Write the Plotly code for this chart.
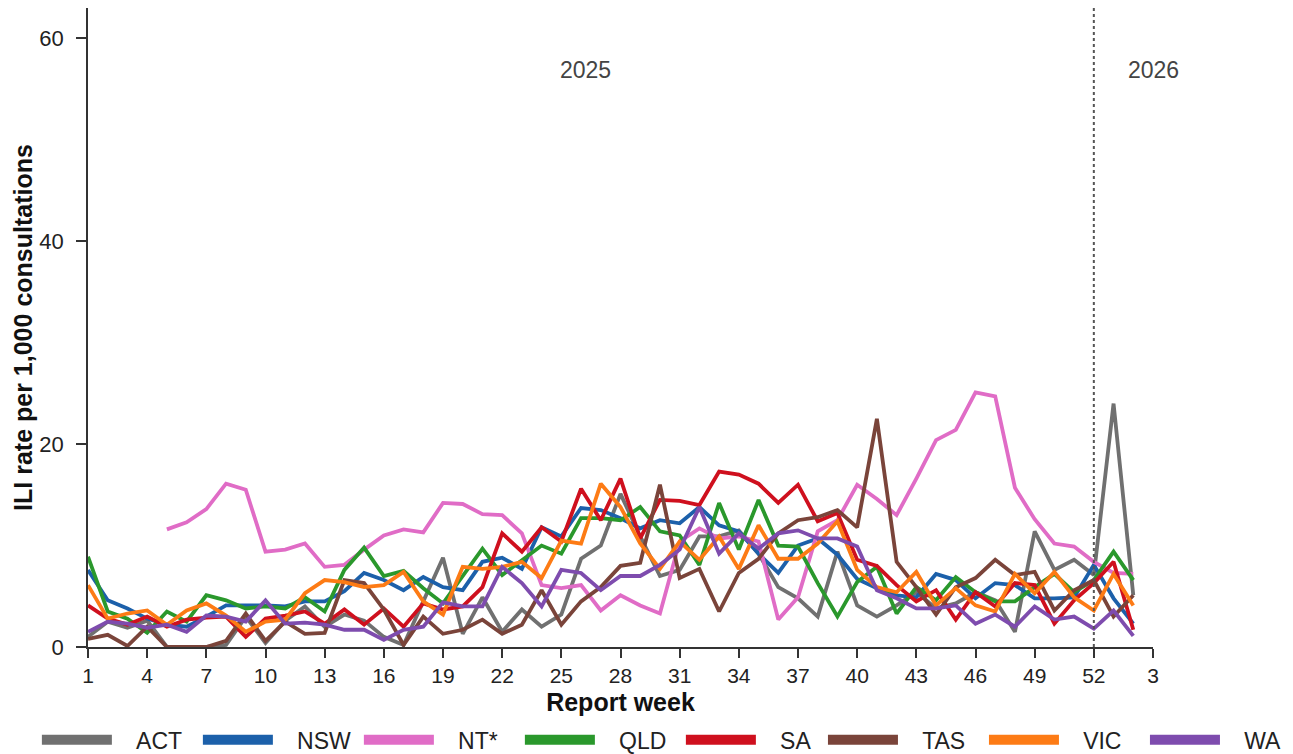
import plotly.graph_objects as go

# Report weeks: 2025 weeks 1-52 followed by 2026 weeks 1-2
report_week = [*range(1, 53), 1, 2]
week_index = list(range(1, len(report_week) + 1))

tick_index = [1, 4, 7, 10, 13, 16, 19, 22, 25, 28, 31, 34, 37, 40, 43, 46, 49, 52, 55]
tick_labels = ["1", "4", "7", "10", "13", "16", "19", "22", "25", "28", "31",
               "34", "37", "40", "43", "46", "49", "52", "3"]

# ILI rate per 1,000 consultations by jurisdiction
act = [1.0, 2.5, 1.9, 2.6, 0.0, 0.0, 0.0, 0.2, 3.0, 0.4, 2.6, 4.0, 2.0, 3.2, 2.6, 1.0, 0.2, 4.5,
       8.8, 1.3, 4.9, 1.5, 3.7, 2.0, 3.2, 8.7, 10.0, 15.1, 10.9, 7.0, 7.6, 10.9, 10.9, 11.5, 9.2,
       5.9, 4.8, 3.0, 9.4, 4.1, 3.0, 4.1, 5.4, 3.8, 4.3, 5.4, 4.6, 1.5, 11.4, 7.6, 8.6, 7.1, 24.0, 5.1]
nsw = [7.6, 4.6, 3.8, 2.8, 2.2, 2.0, 3.0, 4.1, 4.1, 4.1, 4.0, 4.5, 4.5, 5.5, 7.3, 6.6, 5.6, 6.9,
       5.9, 5.6, 8.4, 8.8, 7.7, 11.8, 10.9, 13.7, 13.5, 12.7, 11.7, 12.5, 12.2, 13.8, 12.0, 11.4,
       9.2, 7.3, 10.0, 10.7, 9.1, 6.7, 5.8, 5.1, 4.9, 7.2, 6.6, 4.8, 6.3, 6.1, 4.8, 4.8, 4.9, 8.1,
       4.8, 2.3]
nt = [None, None, None, None, 11.6, 12.3, 13.6, 16.1, 15.5, 9.4, 9.6, 10.2, 7.9, 8.1, 9.6, 11.0,
      11.6, 11.3, 14.2, 14.1, 13.1, 13.0, 11.2, 6.1, 5.8, 6.1, 3.6, 5.1, 4.1, 3.3, 10.4, 11.7,
      10.7, 10.9, 10.4, 2.7, 4.9, 11.4, 12.5, 16.0, 14.6, 13.0, 16.6, 20.4, 21.4, 25.1, 24.7,
      15.7, 12.6, 10.2, 9.9, 8.4, 7.3, 7.2]
qld = [8.9, 3.5, 2.8, 1.4, 3.5, 2.5, 5.1, 4.6, 3.8, 4.0, 3.8, 4.9, 3.5, 7.6, 9.8, 7.0, 7.5, 5.8,
       4.3, 7.0, 9.7, 7.1, 8.6, 10.0, 9.2, 12.7, 12.7, 12.5, 13.8, 11.4, 11.0, 8.1, 14.2, 9.6,
       14.5, 10.0, 9.9, 6.3, 3.0, 6.4, 7.9, 3.3, 5.9, 4.6, 6.9, 5.4, 4.5, 4.5, 5.9, 7.2, 5.4, 6.6,
       9.4, 6.6]
sa = [4.1, 2.8, 2.2, 3.0, 2.0, 2.7, 2.9, 3.0, 1.0, 2.8, 3.1, 3.5, 2.3, 3.7, 2.2, 3.8, 2.0, 4.3,
      3.7, 4.0, 5.9, 11.2, 9.4, 11.8, 10.4, 15.6, 12.5, 16.6, 10.7, 14.5, 14.4, 14.0, 17.3, 17.0,
      16.1, 14.2, 16.0, 12.4, 13.2, 8.6, 8.0, 6.1, 4.5, 5.6, 2.7, 5.4, 4.0, 6.3, 6.1, 2.3, 4.6,
      6.3, 8.4, 1.7]
tas = [0.8, 1.2, 0.1, 2.0, 0.0, 0.0, 0.0, 0.6, 3.3, 0.6, 2.5, 1.3, 1.4, 6.6, 6.3, 3.7, 0.2, 3.0,
       1.3, 1.7, 2.7, 1.3, 2.2, 5.6, 2.2, 4.5, 5.9, 8.0, 8.3, 16.0, 6.8, 7.7, 3.5, 7.3, 8.7, 11.2,
       12.5, 12.8, 13.5, 11.8, 22.5, 8.4, 5.9, 3.2, 5.9, 6.8, 8.6, 7.1, 7.4, 3.6, 5.6, 6.6, 3.0, 5.1]
vic = [6.1, 2.8, 3.3, 3.6, 2.2, 3.6, 4.3, 3.1, 1.5, 2.5, 2.7, 5.3, 6.6, 6.4, 5.9, 6.1, 7.4, 4.5,
       3.2, 7.9, 7.7, 7.9, 8.4, 6.8, 10.5, 10.2, 16.1, 13.8, 10.2, 7.7, 10.4, 8.6, 10.9, 7.7, 12.0,
       8.7, 8.7, 10.2, 12.4, 7.6, 5.9, 5.4, 7.4, 4.1, 5.8, 4.1, 3.5, 7.2, 5.3, 7.4, 4.9, 3.6, 7.2, 4.1]
wa = [1.5, 2.5, 2.3, 1.9, 2.2, 1.5, 3.1, 3.0, 2.5, 4.6, 2.3, 2.4, 2.2, 1.7, 1.7, 0.7, 1.7, 2.0,
      4.4, 4.0, 4.0, 7.9, 6.3, 4.0, 7.6, 7.3, 5.6, 7.0, 7.0, 8.1, 9.6, 13.8, 9.2, 11.2, 9.7, 11.2,
      11.5, 10.7, 10.7, 9.9, 5.6, 4.8, 3.8, 3.8, 4.1, 2.3, 3.2, 2.0, 4.0, 2.7, 3.0, 1.8, 3.6, 1.1]

series_names = ["ACT", "NSW", "NT*", "QLD", "SA", "TAS", "VIC", "WA"]
series_values = [act, nsw, nt, qld, sa, tas, vic, wa]
series_colors = ["#707070", "#1c60aa", "#e06cc6", "#2a982c", "#cf101e", "#7a443a",
                 "#fd7b15", "#7e4cae"]
# the key row is split over two legend boxes so it fits on one line
series_legend = ["legend", "legend", "legend", "legend", "legend", "legend2", "legend2", "legend2"]

FONT = "Liberation Sans, Arial, sans-serif"
AXIS_COLOR = "#333333"
PAD = "\u00a0\u00a0\u00a0"  # gap between legend key and label

fig = go.Figure()

for name, vals, color in zip(series_names, series_values, series_colors):
    fig.add_trace(go.Scatter(
        x=week_index, y=vals, mode="lines", name=name,
        line=dict(color=color, width=3.8),
        legendgroup=name, showlegend=False,
        hovertemplate=name + ": %{y}<extra></extra>",
    ))

# thick legend keys
for name, color, lg in zip(series_names, series_colors, series_legend):
    fig.add_trace(go.Scatter(
        x=[None], y=[None], mode="lines", name=PAD + name,
        line=dict(color=color, width=10), legendgroup=name, showlegend=True,
        legend=lg,
    ))

# boundary between 2025 and 2026
fig.add_shape(type="line", xref="x", yref="paper", x0=52, x1=52, y0=0, y1=1,
              line=dict(color="#555555", width=2, dash="dot"))

fig.add_annotation(x=26.25, y=56.9, xref="x", yref="y", text="2025", showarrow=False,
                   font=dict(family=FONT, size=23, color="#444444"))
fig.add_annotation(x=55, y=56.9, xref="x", yref="y", text="2026", showarrow=False,
                   font=dict(family=FONT, size=23, color="#444444"))

legend_style = dict(
    orientation="h", y=-0.1116, yanchor="top", xanchor="left",
    entrywidth=76, itemwidth=70, font=dict(size=23, color="#222222"),
    bgcolor="rgba(0,0,0,0)",
)

fig.update_layout(
    width=1293, height=754,
    margin=dict(l=88, r=140, t=8, b=107, autoexpand=False),
    paper_bgcolor="white", plot_bgcolor="white",
    font=dict(family=FONT, size=21, color="#222222"),
    showlegend=True,
    legend=dict(x=-0.048, **legend_style),
    legend2=dict(x=0.6901, **legend_style),
    xaxis=dict(
        range=[1, 55], tickvals=tick_index, ticktext=tick_labels,
        showline=True, linecolor=AXIS_COLOR, linewidth=1.5,
        ticks="outside", ticklen=9, tickwidth=1.5, tickcolor=AXIS_COLOR,
        showgrid=False, zeroline=False, automargin=False,
        tickfont=dict(size=21, color="#222222"),
        title=dict(text="<b>Report week</b>", font=dict(size=25, color="#111111"), standoff=8),
    ),
    yaxis=dict(
        range=[0, 63], tickvals=[0, 20, 40, 60],
        showline=True, linecolor=AXIS_COLOR, linewidth=1.5,
        ticks="outside", ticklen=10, tickwidth=1.5, tickcolor=AXIS_COLOR,
        ticklabelstandoff=8,
        showgrid=False, zeroline=False, automargin=False,
        tickfont=dict(size=22, color="#222222"),
        title=dict(text="<b>ILI rate per 1,000 consultations</b>",
                   font=dict(size=25, color="#111111"), standoff=0),
    ),
)

fig.write_html("out.html")
